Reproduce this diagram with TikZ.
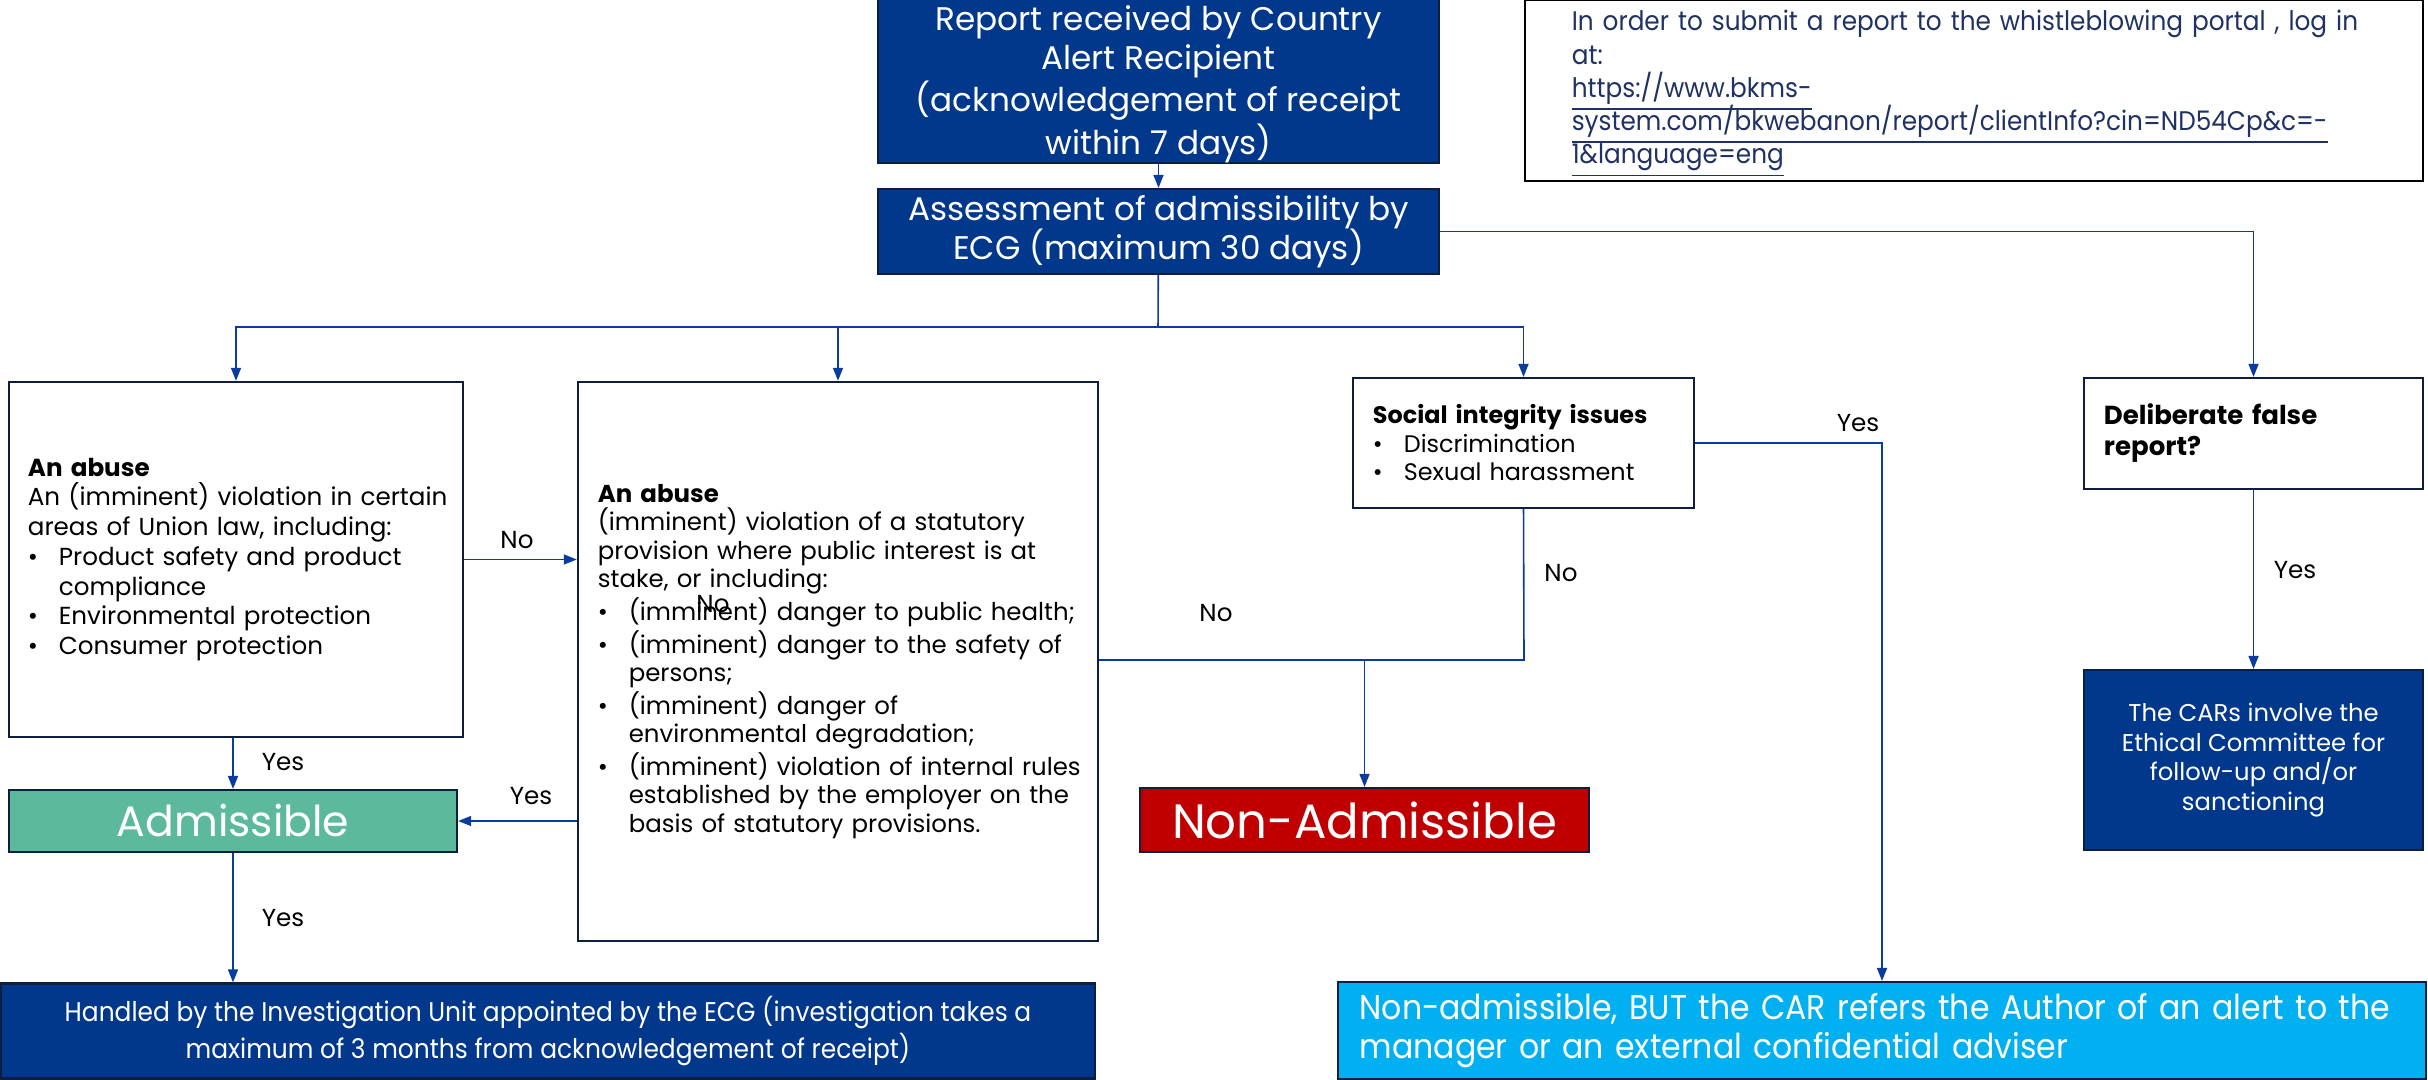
\documentclass[tikz,border=0pt]{standalone}
\usepackage{fontspec}
\setmainfont{Poppins}
\newfontfamily\condfont[FakeStretch=0.92]{Poppins}
\usepackage{tikz}
\usetikzlibrary{arrows.meta,calc,positioning}

\definecolor{navyfill}{RGB}{2,56,140}
\definecolor{navyline}{RGB}{14,30,64}
\definecolor{linkblue}{RGB}{32,50,100}
\definecolor{admgreen}{RGB}{92,185,155}
\definecolor{nonred}{RGB}{192,0,0}
\definecolor{refcyan}{RGB}{0,176,240}
\definecolor{connblue}{RGB}{10,60,160}

% bullet and hanging indent for the list lines
\newcommand{\bl}{\makebox[8.8pt][l]{\textbullet}}
\newcommand{\ind}{\hspace*{8.8pt}}
% underline that keeps the line spacing
\newcommand{\linkline}[1]{\mbox{\rlap{\smash{\underline{\phantom{#1}}}}#1}}

\begin{document}
\begin{tikzpicture}[x=0.01cm, y=-0.01cm,
  darkbox/.style={draw=navyline, line width=0.6pt, fill=navyfill, text=white, align=center, inner sep=0pt},
  whitebox/.style={draw=navyline, line width=0.6pt, fill=white, align=left, inner sep=0pt},
  arr/.style={-{Triangle[length=0.13cm,width=0.1cm]}, draw=connblue, line width=0.45pt},
  conn/.style={draw=connblue, line width=0.45pt},
  lbl/.style={font=\fontsize{7}{8}\selectfont, inner sep=0pt}
]
\useasboundingbox (0,0) rectangle (2428,1080);

% top of the flow
\node[darkbox, minimum width=5.61cm, minimum height=1.55cm, font=\fontsize{9.3}{11.1}\selectfont] (report) at (1158.5,77.5) {\rule{0pt}{11pt}Report received by Country\\Alert Recipient\\(acknowledgement of receipt\\within 7 days)};
\node[darkbox, minimum width=5.61cm, minimum height=0.85cm, font=\fontsize{9.3}{11.1}\selectfont] (assess) at (1158.5,231.5) {Assessment of admissibility by\\ECG (maximum 30 days)};
\node[draw=black, line width=0.6pt, fill=white, minimum width=8.98cm, minimum height=1.81cm, text width=8.04cm, align=left, inner sep=0pt, text=linkblue, font=\condfont\fontsize{7.65}{9.4}\selectfont] (portal) at (1974,90.5) {\mbox{In order to submit a report to the whistleblowing portal , log in}\\at:\\\linkline{https://www.bkms-}\\\linkline{system.com/bkwebanon/report/clientInfo?cin=ND54Cp\&c=-}\\\linkline{1\&language=eng}};

% the four checks
\node[whitebox, minimum width=4.54cm, minimum height=3.55cm, text width=4.16cm, font=\fontsize{7}{8.45}\selectfont] (abuseA) at (236,559.5) {\textbf{An abuse}\\\mbox{An (imminent) violation in certain}\\\mbox{areas of Union law, including:}\\\bl Product safety and product\\\ind compliance\\\bl Environmental protection\\\bl Consumer protection};
\node[whitebox, minimum width=5.2cm, minimum height=5.59cm, text width=4.8cm, font=\fontsize{6.95}{8.05}\selectfont] (abuseB) at (838,661.5) {\textbf{An abuse}\\\mbox{(imminent) violation of a statutory}\\\mbox{provision where public interest is at}\\stake, or including:\\\mbox{\bl (imminent) danger to public health;}\\\mbox{\bl (imminent) danger to the safety of}\\\ind persons;\\\bl (imminent) danger of\\\mbox{\ind environmental degradation;}\\\mbox{\bl (imminent) violation of internal rules}\\\mbox{\ind established by the employer on the}\\\mbox{\ind basis of statutory provisions.}};
\node[whitebox, minimum width=3.41cm, minimum height=1.3cm, text width=3.01cm, font=\fontsize{6.8}{8.1}\selectfont] (social) at (1523.5,443) {\textbf{Social integrity issues}\\\bl Discrimination\\\bl Sexual harassment};
\node[whitebox, minimum width=3.39cm, minimum height=1.11cm, text width=2.99cm, font=\bfseries\fontsize{7.4}{8.8}\selectfont] (falserep) at (2253.5,433.5) {Deliberate false\\report?};

% outcomes
\node[draw=navyline, line width=0.6pt, fill=admgreen, text=white, minimum width=4.48cm, minimum height=0.62cm, inner sep=0pt, font=\fontsize{12.1}{14}\selectfont] (adm) at (233,821) {Admissible};
\node[draw=navyline, line width=0.6pt, fill=nonred, text=white, minimum width=4.49cm, minimum height=0.64cm, inner sep=0pt, font=\fontsize{13.7}{16}\selectfont] (nonadm) at (1364.5,820) {Non-Admissible};
\node[darkbox, minimum width=3.39cm, minimum height=1.8cm, font=\fontsize{6.9}{8.5}\selectfont] (cars) at (2253.5,760) {The CARs involve the\\Ethical Committee for\\follow-up and/or\\sanctioning};
\node[darkbox, minimum width=10.93cm, minimum height=0.95cm, font=\condfont\fontsize{7.7}{8.8}\selectfont] (handled) at (548,1031) {Handled by the Investigation Unit appointed by the ECG (investigation takes a\\maximum of 3 months from acknowledgement of receipt)};
\node[draw=navyline, line width=0.6pt, fill=refcyan, text=white, minimum width=10.88cm, minimum height=0.97cm, text width=10.44cm, align=left, inner sep=0pt, font=\condfont\fontsize{9.75}{11}\selectfont] (nonadmbut) at (1882,1030.5) {\mbox{Non-admissible, BUT the CAR refers the Author of an alert to the}\\manager or an external confidential adviser};

% connectors
\coordinate (split) at (1158,327);
\coordinate (merge) at (1524,660);
\draw[arr] (report) -- (assess);
\draw[conn] (assess) -- (split);
\draw[arr] (split) -| (abuseA.north);
\draw[arr] (split) -| (abuseB.north);
\draw[arr] (split) -| (social.north);
\draw[arr] (assess.east) -| (falserep.north);
\draw[arr] (abuseA.east) -- (abuseA.east -| abuseB.west);
\draw[arr] (adm.north |- abuseA.south) -- (adm.north);
\draw[arr] (adm.east -| abuseB.west) -- (adm.east);
\draw[conn] (merge -| abuseB.east) -- (merge) -- (social.south);
\draw[arr] (nonadm.north |- merge) -- (nonadm.north);
\draw[arr] (social.east) -| (nonadmbut.north);
\draw[arr] (falserep) -- (cars);
\draw[arr] (adm.south) -- (adm.south |- handled.north);

% labels
\node[lbl] (noAB) at (517,540) {No};
\node[lbl] (yesAadm) at (283,762) {Yes};
\node[lbl] (yesBadm) at (531,796) {Yes};
\node[lbl] (noInB) at (713,604) {No};
\node[lbl] (noBnon) at (1216,613) {No};
\node[lbl] (noCnon) at (1561,573) {No};
\node[lbl] (yesCbut) at (1858,423) {Yes};
\node[lbl] (yesDcars) at (2295,570) {Yes};
\node[lbl] (yesAdmHand) at (283,918) {Yes};
\end{tikzpicture}
\end{document}
